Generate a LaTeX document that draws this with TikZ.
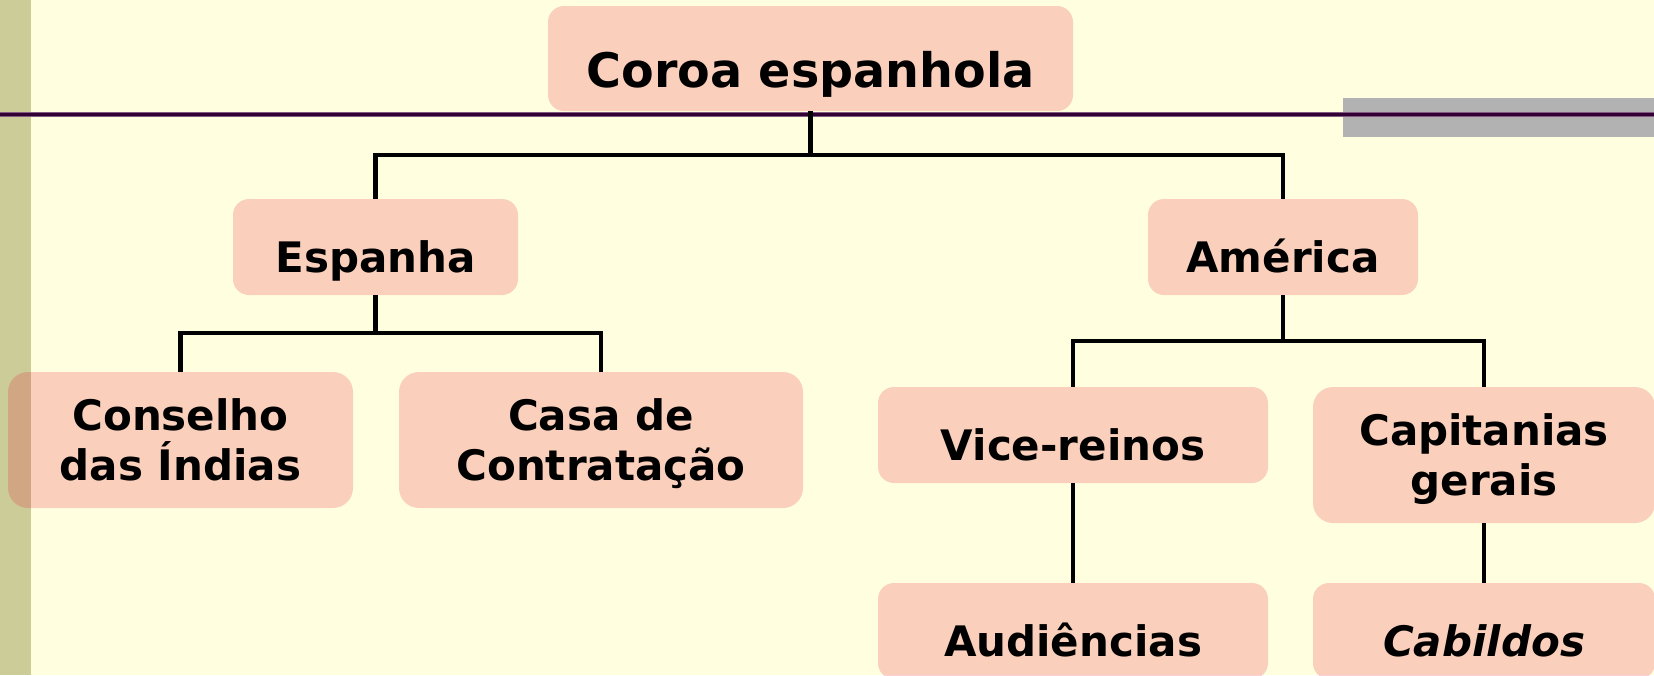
\documentclass[tikz,border=0pt]{standalone}
\usepackage{fontspec}
\setmainfont{DejaVu Sans}
\definecolor{bgc}{RGB}{255,255,224}
\definecolor{sidec}{RGB}{204,204,153}
\definecolor{grayc}{RGB}{178,178,178}
\definecolor{purpc}{RGB}{51,0,51}
\definecolor{purpl}{RGB}{130,90,130}
\definecolor{boxc}{RGB}{230,20,44}
\tikzset{
  box/.style={rounded corners=16pt, fill=boxc, fill opacity=0.2, text opacity=1,
    inner sep=0pt, align=center, text=black,
    font=\fontsize{42}{50}\selectfont\bfseries},
  oneline/.style={text height=50.4pt, text depth=0pt},
  twoline/.style={text depth=0pt, rounded corners=20pt},
  conn/.style={draw=black, line width=4.5pt}
}
\begin{document}
\begin{tikzpicture}[x=1pt,y=-1pt]
\useasboundingbox (0,0) rectangle (1654,675);
\fill[bgc] (0,0) rectangle (1654,675);
\fill[sidec] (0,0) rectangle (31,675);
\fill[grayc] (1343,98) rectangle (1654,137);
\draw[purpl, line width=5pt] (0,114.5) -- (1654,114.5);
\draw[purpc, line width=3pt] (0,114.5) -- (1654,114.5);

\node[box, minimum width=525pt, minimum height=105pt, text height=57pt, text depth=0pt,
  font=\fontsize{47.6}{56}\selectfont\bfseries] (coroa) at (810.5,58.5) {Coroa espanhola};
\node[box, oneline, minimum width=285pt, minimum height=96pt] (espanha) at (375.5,247) {Espanha};
\node[box, oneline, minimum width=270pt, minimum height=96pt] (america) at (1283,247) {América};
\node[box, twoline, minimum width=345pt, minimum height=136pt] (conselho) at (180.5,440) {Conselho\\das Índias};
\node[box, twoline, minimum width=404pt, minimum height=136pt] (casa) at (601,440) {Casa de\\Contratação};
\node[box, oneline, minimum width=390pt, minimum height=96pt] (vice) at (1073,435) {Vice-reinos};
\node[box, twoline, minimum width=342pt, minimum height=136pt] (capit) at (1484,455) {Capitanias\\gerais};
\node[box, oneline, minimum width=390pt, minimum height=96pt] (aud) at (1073,631) {Audiências};
\node[box, oneline, minimum width=342pt, minimum height=96pt] (cab) at (1484,631) {\itshape Cabildos};

\coordinate (j1) at ([yshift=-44pt]coroa.south);
\coordinate (j2) at ([yshift=-38pt]espanha.south);
\coordinate (j3) at ([yshift=-46pt]america.south);

\draw[conn] (coroa.south) -- (j1);
\draw[conn] (espanha.north) |- (j1) -| (america.north);
\draw[conn] (espanha.south) -- (j2);
\draw[conn] (conselho.north) |- (j2) -| (casa.north);
\draw[conn] (america.south) -- (j3);
\draw[conn] (vice.north) |- (j3) -| (capit.north);
\draw[conn] (vice.south) -- (aud.north);
\draw[conn] (capit.south) -- (cab.north);
\end{tikzpicture}
\end{document}
